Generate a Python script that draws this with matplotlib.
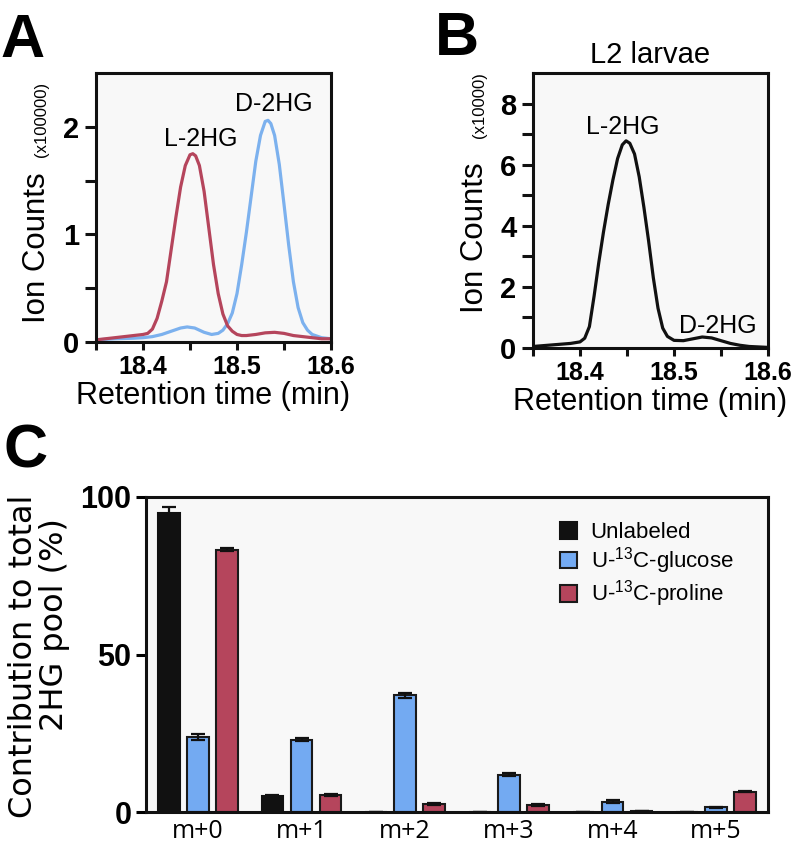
import numpy as np
import matplotlib
matplotlib.use('Agg')
import matplotlib.pyplot as plt
from matplotlib.ticker import FixedLocator

plt.rcParams['font.family'] = ['Liberation Sans', 'DejaVu Sans']
plt.rcParams['mathtext.fontset'] = 'custom'
plt.rcParams['mathtext.rm'] = 'Liberation Sans'

# panel A: standards chromatogram (x100000 counts)
a_red_t = [18.350, 18.360, 18.370, 18.380, 18.390, 18.400, 18.405, 18.410, 18.415, 18.420,
           18.425, 18.430, 18.435, 18.440, 18.445, 18.450, 18.453, 18.456, 18.460, 18.465,
           18.470, 18.475, 18.480, 18.485, 18.490, 18.495, 18.500, 18.505, 18.510, 18.520,
           18.530, 18.540, 18.550, 18.560, 18.570, 18.580, 18.590, 18.600]
a_red_y = [0.02, 0.03, 0.04, 0.05, 0.06, 0.07, 0.08, 0.12, 0.22, 0.38,
           0.56, 0.86, 1.16, 1.44, 1.64, 1.74, 1.75, 1.73, 1.64, 1.40,
           1.06, 0.72, 0.45, 0.26, 0.15, 0.10, 0.07, 0.06, 0.06, 0.07,
           0.085, 0.09, 0.08, 0.06, 0.05, 0.04, 0.03, 0.03]
a_blue_t = [18.350, 18.370, 18.390, 18.400, 18.410, 18.420, 18.430, 18.440, 18.447, 18.455,
            18.465, 18.473, 18.480, 18.485, 18.490, 18.495, 18.500, 18.505, 18.510, 18.515,
            18.520, 18.525, 18.530, 18.533, 18.536, 18.540, 18.545, 18.550, 18.555, 18.560,
            18.565, 18.570, 18.575, 18.580, 18.590, 18.600]
a_blue_y = [0.02, 0.03, 0.035, 0.04, 0.05, 0.07, 0.10, 0.13, 0.14, 0.13,
            0.09, 0.07, 0.08, 0.11, 0.17, 0.27, 0.45, 0.72, 1.02, 1.35,
            1.68, 1.92, 2.05, 2.06, 2.03, 1.92, 1.65, 1.28, 0.90, 0.56,
            0.32, 0.18, 0.11, 0.07, 0.04, 0.03]

# panel B: L2 larvae (x10000 counts)
b_t = [18.350, 18.370, 18.390, 18.400, 18.405, 18.410, 18.415, 18.420, 18.425, 18.430,
       18.435, 18.440, 18.445, 18.449, 18.453, 18.458, 18.463, 18.468, 18.473, 18.478,
       18.483, 18.488, 18.493, 18.500, 18.510, 18.520, 18.530, 18.540, 18.550, 18.560,
       18.570, 18.580, 18.600]
b_y = [0.05, 0.10, 0.15, 0.20, 0.32, 0.70, 1.70, 2.80, 3.80, 4.70,
       5.50, 6.20, 6.65, 6.78, 6.70, 6.35, 5.60, 4.60, 3.50, 2.30,
       1.30, 0.65, 0.38, 0.25, 0.24, 0.30, 0.36, 0.33, 0.24, 0.15,
       0.09, 0.05, 0.02]

# panel C: isotopologue distribution (%)
isotopologues = ['m+0', 'm+1', 'm+2', 'm+3', 'm+4', 'm+5']
unlabeled = [94.8, 5.2, 0, 0, 0, 0]
unlabeled_err = [2.0, 0.3, 0, 0, 0, 0]
glucose = [23.7, 22.9, 37.1, 11.9, 3.3, 1.5]
glucose_err = [1.0, 0.5, 0.8, 0.5, 0.6, 0.2]
proline = [83.3, 5.4, 2.5, 2.2, 0.3, 6.5]
proline_err = [0.4, 0.2, 0.2, 0.2, 0.1, 0.2]

RED = '#b5455c'
BLUE = '#73aaf2'
BLUE_LINE = '#7cb1ee'
BG = '#f8f8f8'
W, H = 805, 843

fig = plt.figure(figsize=(W / 100, H / 100), dpi=100)


def px(l, t, r, b):
    return [l / W, 1 - b / H, (r - l) / W, (b - t) / H]


def chrom_axes(ax, ymax, yticks, yminor):
    ax.set_facecolor(BG)
    for s in ax.spines.values():
        s.set_linewidth(2.2)
        s.set_color('#111111')
    ax.set_xlim(18.35, 18.6)
    ax.set_ylim(0, ymax)
    ax.set_xticks([18.4, 18.5, 18.6])
    ax.set_xticklabels(['18.4', '18.5', '18.6'], fontsize=18, fontweight='bold')
    ax.xaxis.set_minor_locator(FixedLocator([18.35, 18.45, 18.55]))
    ax.set_yticks(yticks)
    ax.set_yticklabels([str(t) for t in yticks], fontsize=21, fontweight='bold')
    ax.yaxis.set_minor_locator(FixedLocator(yminor))
    ax.tick_params(axis='both', which='both', width=2.2, color='#111111')
    ax.tick_params(axis='y', which='both', length=8, pad=4)
    ax.tick_params(axis='x', which='both', length=6)


# ---- A ----
axA = fig.add_axes(px(96, 73, 331, 342))
axA.plot(a_blue_t, a_blue_y, color=BLUE_LINE, lw=2.3)
axA.plot(a_red_t, a_red_y, color=RED, lw=2.3)
chrom_axes(axA, 2.5, [0, 1, 2], [0.5, 1.5])
axA.text(18.461, 1.82, 'L-2HG', ha='center', va='baseline', fontsize=18)
axA.text(18.539, 2.15, 'D-2HG', ha='center', va='baseline', fontsize=18)

# ---- B ----
axB = fig.add_axes(px(533, 73, 768, 348))
axB.plot(b_t, b_y, color='#111111', lw=2.3)
chrom_axes(axB, 9, [0, 2, 4, 6, 8], [1, 3, 5, 7])
axB.text(18.446, 7.0, 'L-2HG', ha='center', va='baseline', fontsize=18)
axB.text(18.547, 0.5, 'D-2HG', ha='center', va='baseline', fontsize=18)
axB.set_title('L2 larvae', fontsize=21, pad=7)

# axis labels for A and B
for xb, y0, y1, small in [(45, 323, 157, '(x100000)'), (483, 313, 138, '(x10000)')]:
    fig.text(xb / W, 1 - y0 / H, 'Ion Counts', rotation=90, rotation_mode='anchor',
             ha='left', va='baseline', fontsize=22.5)
    fig.text((xb + 1) / W, 1 - y1 / H, small, rotation=90, rotation_mode='anchor',
             ha='left', va='baseline', fontsize=12)
fig.text(213 / W, 1 - 404 / H, 'Retention time (min)', ha='center', va='baseline', fontsize=22)
fig.text(650 / W, 1 - 410 / H, 'Retention time (min)', ha='center', va='baseline', fontsize=22)

# ---- C ----
axC = fig.add_axes(px(146, 497, 768, 812))
axC.set_facecolor(BG)
x = np.arange(len(isotopologues))
bw = 0.21
off = 0.28
ekw = dict(ecolor='#111111', elinewidth=1.6, capsize=5, capthick=1.6)
axC.bar(x - off, unlabeled, bw, yerr=unlabeled_err, color='#111111',
        edgecolor='#111111', linewidth=1.5, error_kw=ekw, label='Unlabeled')
axC.bar(x, glucose, bw, yerr=glucose_err, color=BLUE,
        edgecolor='#1a1a1a', linewidth=1.5, error_kw=ekw,
        label='U-$^{\\mathregular{13}}$C-glucose')
axC.bar(x + off, proline, bw, yerr=proline_err, color=RED,
        edgecolor='#1a1a1a', linewidth=1.5, error_kw=ekw,
        label='U-$^{\\mathregular{13}}$C-proline')
axC.set_xlim(-0.5, 5.5)
axC.set_ylim(0, 100)
axC.set_yticks([0, 50, 100])
axC.set_xticks(x)
axC.set_xticklabels(isotopologues, fontsize=18, family='Open Sans')
axC.tick_params(axis='x', length=0, pad=5)
axC.tick_params(axis='y', length=7, width=2.2, labelsize=22)
for lab in axC.get_yticklabels():
    lab.set_fontweight('bold')
for s in axC.spines.values():
    s.set_linewidth(2.2)
    s.set_color('#111111')
axC.legend(loc='upper left', bbox_to_anchor=(0.666, 0.92), frameon=False, fontsize=16,
           borderpad=0, borderaxespad=0, handlelength=0.77, handleheight=0.77,
           handletextpad=0.6, labelspacing=0.1)

fig.text(32 / W, 1 - 656 / H, 'Contribution to total', rotation=90, rotation_mode='anchor',
         ha='center', va='baseline', fontsize=23, family='DejaVu Sans')
fig.text(63 / W, 1 - 625 / H, '2HG pool (%)', rotation=90, rotation_mode='anchor',
         ha='center', va='baseline', fontsize=23, family='DejaVu Sans')

# panel letters
fig.text(0 / W, 1 - 57 / H, 'A', fontsize=44, fontweight='bold', va='baseline')
fig.text(435 / W, 1 - 55 / H, 'B', fontsize=44, fontweight='bold', va='baseline')
fig.text(3 / W, 1 - 467 / H, 'C', fontsize=44, fontweight='bold', va='baseline')

fig.savefig('out.png', dpi=100)
